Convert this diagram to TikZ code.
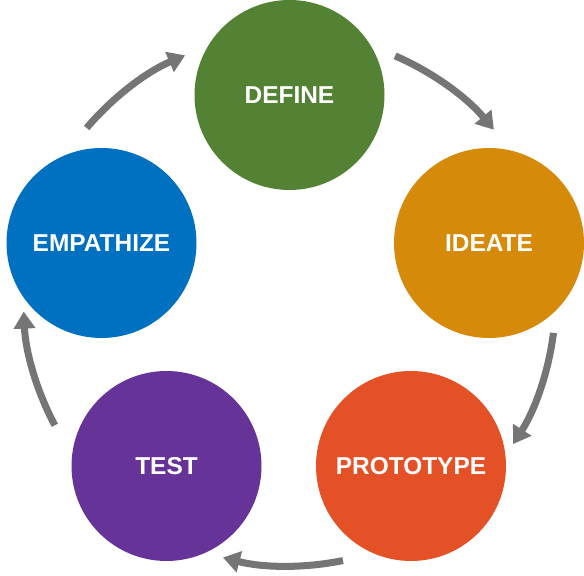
\documentclass[tikz,border=0pt]{standalone}
\usepackage{fontspec}
\setmainfont{Liberation Sans}
\usetikzlibrary{arrows.meta}

\definecolor{cdef}{HTML}{548235}
\definecolor{cide}{HTML}{D68A0A}
\definecolor{cpro}{HTML}{E55127}
\definecolor{ctes}{HTML}{663399}
\definecolor{cemp}{HTML}{0070C0}
\definecolor{carr}{HTML}{757575}

\begin{document}
\begin{tikzpicture}[
  font=\fontsize{13.9}{16}\selectfont\bfseries,
  stage/.style={circle,inner sep=0pt,minimum size=3.8cm,text=white},
  cyc/.style={draw=carr,line width=4pt,-{Triangle[length=3.4mm,width=4.2mm]}}]
\useasboundingbox (0,0) rectangle (11.68,11.52);
\coordinate (c) at (5.79,5.52);
\node[stage,fill=cdef] (def) at (5.79,9.62) {DEFINE};
\node[stage,fill=cide] (ide) at (9.78,6.66) {IDEATE};
\node[stage,fill=cpro] (pro) at (8.22,2.20) {PROTOTYPE};
\node[stage,fill=ctes] (tes) at (3.33,2.20) {TEST};
\node[stage,fill=cemp] (emp) at (2.03,6.66) {EMPATHIZE};
% arcs round the centre
\foreach \a/\b in {139.7/113.1,66.6/39.8,-7.1/-32.8,-78.4/-104.5,208.1/182.5}
  \draw[cyc,shift={(c)}] (\a:5.32) arc[start angle=\a,end angle=\b,radius=5.32];
\end{tikzpicture}
\end{document}
